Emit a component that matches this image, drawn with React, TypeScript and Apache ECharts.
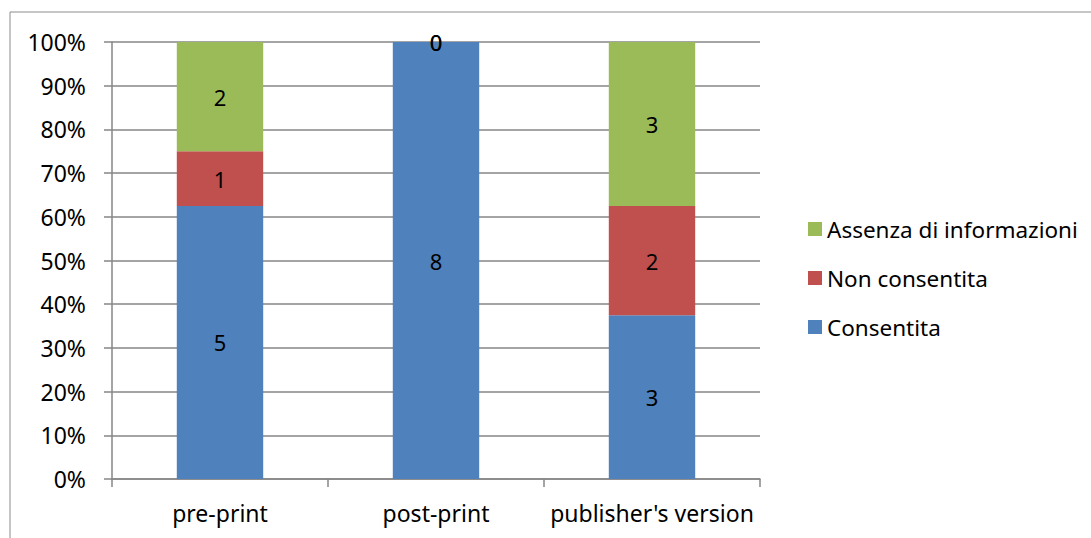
import React, { useEffect, useRef } from "react";
import * as echarts from "echarts";

const categories = ["pre-print", "post-print", "publisher's version"];
const consentita = [5, 8, 3];
const nonConsentita = [1, 0, 2];
const assenza = [2, 0, 3];
const yTicks = [0, 10, 20, 30, 40, 50, 60, 70, 80, 90, 100];

const FONT = "Noto Sans";

export default function App() {
  const ref = useRef<HTMLDivElement>(null);
  useEffect(() => {
    if (!ref.current) return;
    const chart = echarts.init(ref.current, undefined, { renderer: "svg" });
    const totals = categories.map((_, i) => consentita[i] + nonConsentita[i] + assenza[i]);
    const mk = (name: string, vals: number[], color: string) => ({
      name,
      type: "bar",
      stack: "total",
      barWidth: "40%",
      itemStyle: { color },
      data: vals.map((v, i) => ({ value: (v / totals[i]) * 100, raw: v })),
      label: {
        show: true,
        position: "inside",
        color: "#000",
        fontFamily: FONT,
        fontSize: 22,
        formatter: (p: any) => String(p.data.raw),
      },
      labelLayout: { hideOverlap: false },
    });
    chart.setOption({
      animation: false,
      textStyle: { fontFamily: FONT },
      graphic: [
        {
          type: "rect",
          shape: { x: 10, y: 12, width: 1200, height: 600 },
          style: { fill: "none", stroke: "#8c8c8c", lineWidth: 1 },
          silent: true,
        },
      ],
      grid: { left: 112, top: 42, width: 648, height: 437 },
      legend: {
        orient: "vertical",
        left: 803,
        top: 212,
        itemWidth: 14,
        itemHeight: 14,
        itemGap: 25,
        itemTextGap: 4,
        icon: "rect",
        data: ["Assenza di informazioni", "Non consentita", "Consentita"],
        textStyle: { fontFamily: FONT, fontSize: 22.5, lineHeight: 24, color: "#000" },
      },
      xAxis: {
        type: "category",
        data: categories,
        axisLine: { lineStyle: { color: "#868686", width: 1.5 } },
        axisTick: { show: true, length: 8, lineStyle: { color: "#868686", width: 1.5 } },
        axisLabel: { color: "#000", fontSize: 23, fontFamily: FONT, margin: 22, interval: 0 },
      },
      yAxis: {
        type: "value",
        min: 0,
        max: 100,
        interval: 10,
        axisLine: { show: true, lineStyle: { color: "#868686", width: 1.5 } },
        axisTick: { show: true, length: 8, lineStyle: { color: "#868686", width: 1.5 } },
        splitLine: { show: true, lineStyle: { color: "#868686", width: 1.5 } },
        axisLabel: {
          color: "#000",
          fontSize: 23,
          fontFamily: FONT,
          margin: 26,
          formatter: (v: number) => (yTicks.includes(v) ? v + "%" : ""),
        },
      },
      series: [
        mk("Consentita", consentita, "#4F81BD"),
        mk("Non consentita", nonConsentita, "#C0504D"),
        mk("Assenza di informazioni", assenza, "#9BBB59"),
      ],
    });
    return () => chart.dispose();
  }, []);
  return (
    <div
      ref={ref}
      style={{ position: "fixed", left: 0, top: 0, width: 1091, height: 538, background: "#fff" }}
    />
  );
}
